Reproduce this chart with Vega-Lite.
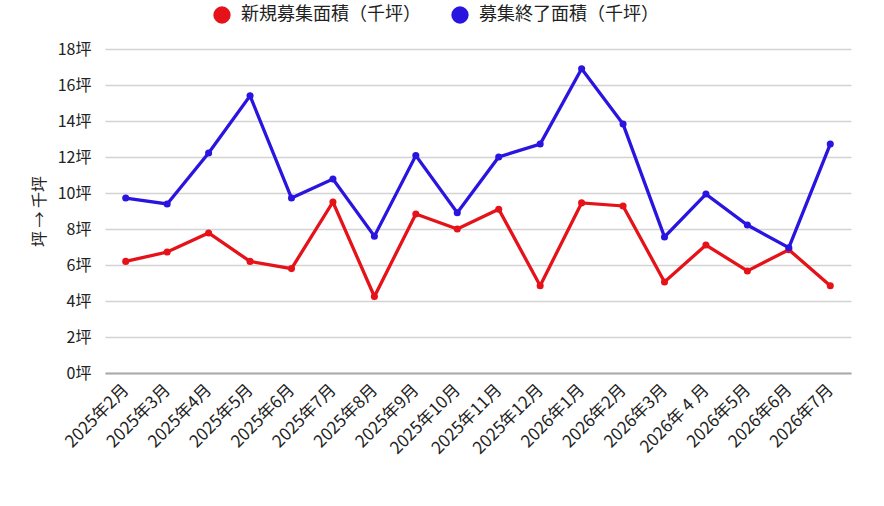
{
  "$schema": "https://vega.github.io/schema/vega-lite/v6.json",
  "width": 746,
  "height": 324,
  "autosize": {"type": "none"},
  "padding": {"left": 105, "top": 49, "right": 33, "bottom": 133},
  "background": "#ffffff",
  "data": {
    "values": [
      {"month": "2025年2月", "series": "新規募集面積（千坪）", "value": 6.2},
      {"month": "2025年3月", "series": "新規募集面積（千坪）", "value": 6.72},
      {"month": "2025年4月", "series": "新規募集面積（千坪）", "value": 7.78},
      {"month": "2025年5月", "series": "新規募集面積（千坪）", "value": 6.2},
      {"month": "2025年6月", "series": "新規募集面積（千坪）", "value": 5.8},
      {"month": "2025年7月", "series": "新規募集面積（千坪）", "value": 9.5},
      {"month": "2025年8月", "series": "新規募集面積（千坪）", "value": 4.25},
      {"month": "2025年9月", "series": "新規募集面積（千坪）", "value": 8.83},
      {"month": "2025年10月", "series": "新規募集面積（千坪）", "value": 8.0},
      {"month": "2025年11月", "series": "新規募集面積（千坪）", "value": 9.1},
      {"month": "2025年12月", "series": "新規募集面積（千坪）", "value": 4.85},
      {"month": "2026年1月", "series": "新規募集面積（千坪）", "value": 9.45},
      {"month": "2026年2月", "series": "新規募集面積（千坪）", "value": 9.28},
      {"month": "2026年3月", "series": "新規募集面積（千坪）", "value": 5.06},
      {"month": "2026年 4 月", "series": "新規募集面積（千坪）", "value": 7.11},
      {"month": "2026年5月", "series": "新規募集面積（千坪）", "value": 5.67},
      {"month": "2026年6月", "series": "新規募集面積（千坪）", "value": 6.85},
      {"month": "2026年7月", "series": "新規募集面積（千坪）", "value": 4.85},
      {"month": "2025年2月", "series": "募集終了面積（千坪）", "value": 9.72},
      {"month": "2025年3月", "series": "募集終了面積（千坪）", "value": 9.39},
      {"month": "2025年4月", "series": "募集終了面積（千坪）", "value": 12.22},
      {"month": "2025年5月", "series": "募集終了面積（千坪）", "value": 15.4},
      {"month": "2025年6月", "series": "募集終了面積（千坪）", "value": 9.72},
      {"month": "2025年7月", "series": "募集終了面積（千坪）", "value": 10.78},
      {"month": "2025年8月", "series": "募集終了面積（千坪）", "value": 7.6},
      {"month": "2025年9月", "series": "募集終了面積（千坪）", "value": 12.08},
      {"month": "2025年10月", "series": "募集終了面積（千坪）", "value": 8.9},
      {"month": "2025年11月", "series": "募集終了面積（千坪）", "value": 12.0},
      {"month": "2025年12月", "series": "募集終了面積（千坪）", "value": 12.72},
      {"month": "2026年1月", "series": "募集終了面積（千坪）", "value": 16.9},
      {"month": "2026年2月", "series": "募集終了面積（千坪）", "value": 13.83},
      {"month": "2026年3月", "series": "募集終了面積（千坪）", "value": 7.56},
      {"month": "2026年 4 月", "series": "募集終了面積（千坪）", "value": 9.94},
      {"month": "2026年5月", "series": "募集終了面積（千坪）", "value": 8.22},
      {"month": "2026年6月", "series": "募集終了面積（千坪）", "value": 6.96},
      {"month": "2026年7月", "series": "募集終了面積（千坪）", "value": 12.72}
    ]
  },
  "encoding": {
    "x": {
      "field": "month",
      "type": "ordinal",
      "sort": null,
      "title": null,
      "axis": {
        "labelAngle": -45,
        "labelAlign": "right",
        "labelBaseline": "middle",
        "labelFontSize": 17,
        "labelColor": "#222222",
        "labelPadding": 14,
        "labelOverlap": false,
        "ticks": false,
        "domainColor": "#aaaaaa",
        "domainWidth": 2,
        "grid": false
      }
    },
    "y": {
      "field": "value",
      "type": "quantitative",
      "scale": {"domain": [0, 18]},
      "title": "坪 → 千坪",
      "axis": {
        "values": [0, 2, 4, 6, 8, 10, 12, 14, 16, 18],
        "labelExpr": "datum.value + '坪'",
        "labelFontSize": 16,
        "labelColor": "#222222",
        "labelPadding": 14,
        "titleFontSize": 16,
        "titleFontWeight": "normal",
        "titleColor": "#222222",
        "titlePadding": 10,
        "ticks": false,
        "domain": false,
        "gridColor": "#d3d3d3",
        "gridWidth": 1.5
      }
    },
    "color": {
      "field": "series",
      "type": "nominal",
      "sort": ["新規募集面積（千坪）", "募集終了面積（千坪）"],
      "scale": {
        "domain": ["新規募集面積（千坪）", "募集終了面積（千坪）"],
        "range": ["#e5121a", "#2a14e0"]
      },
      "legend": {
        "title": null,
        "orient": "none",
        "direction": "horizontal",
        "legendX": 108,
        "legendY": -43,
        "symbolType": "circle",
        "symbolSize": 300,
        "symbolStrokeWidth": 0,
        "labelFontSize": 18,
        "labelLimit": 0,
        "labelColor": "#222222",
        "columnPadding": 30,
        "labelOffset": 10
      }
    }
  },
  "layer": [
    {"mark": {"type": "line", "strokeWidth": 3.3}},
    {"mark": {"type": "point", "filled": true, "opacity": 1, "size": 50}}
  ],
  "config": {
    "font": "Noto Sans CJK JP",
    "view": {"stroke": null}
  }
}
